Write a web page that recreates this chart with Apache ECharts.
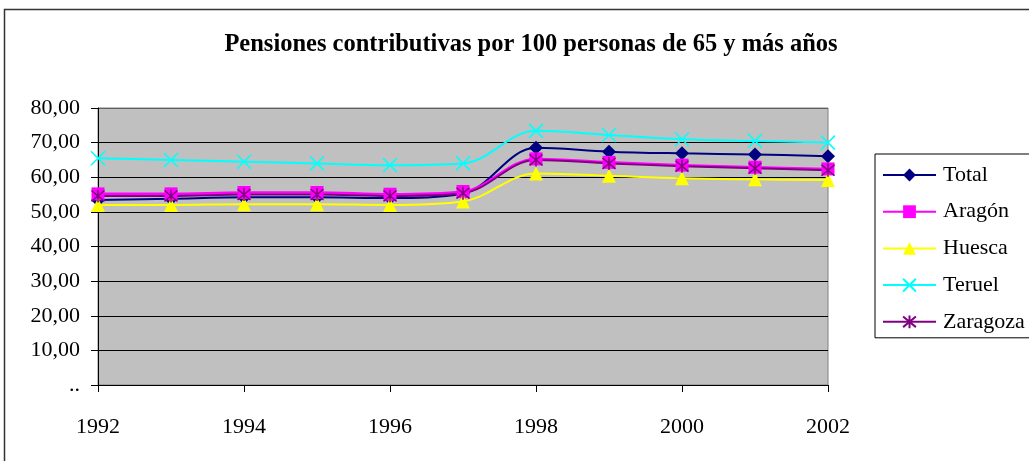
<!DOCTYPE html>
<html>
<head>
<meta charset="utf-8">
<script src="https://cdn.jsdelivr.net/npm/echarts@6/dist/echarts.min.js"></script>
<style>
  html, body { margin: 0; padding: 0; background: #fff; }
  #chart { width: 1029px; height: 461px; }
</style>
</head>
<body>
<div id="chart"></div>
<script>
const years = ['1992', '1993', '1994', '1995', '1996', '1997', '1998', '1999', '2000', '2001', '2002'];
const total = [53.4, 53.8, 54.2, 54.2, 54.0, 55.3, 68.5, 67.4, 66.9, 66.6, 66.1];
const aragon = [55.2, 55.2, 55.6, 55.6, 55.1, 55.9, 65.3, 64.3, 63.5, 62.9, 62.4];
const huesca = [52.0, 52.0, 52.2, 52.2, 52.0, 53.0, 61.1, 60.4, 59.7, 59.4, 59.2];
const teruel = [65.5, 65.0, 64.5, 64.0, 63.5, 64.0, 73.4, 72.2, 71.0, 70.5, 70.0];
const zaragoza = [54.6, 54.6, 55.0, 55.0, 54.6, 55.4, 65.0, 64.0, 63.2, 62.6, 62.0];

const serif = '"Liberation Serif", "DejaVu Serif", serif';
const xPath = 'path://M0,0 L10,10 M10,0 L0,10';
const starPath = 'path://M0,0 L10,10 M10,0 L0,10 M5,-1 L5,11';

function line(name, data, color, symbol, size, strokeMarker, width) {
  return {
    name: name,
    type: 'line',
    data: data,
    smooth: 0.35,
    symbol: symbol,
    symbolSize: size,
    lineStyle: { color: color, width: width || 2 },
    itemStyle: strokeMarker
      ? { color: 'none', borderColor: color, borderWidth: 1.5 }
      : { color: color },
    emphasis: { disabled: true },
  };
}

let chart = echarts.init(document.getElementById('chart'), null, { renderer: 'canvas' });
chart.setOption({
  animation: false,
  title: {
    text: 'Pensiones contributivas por 100 personas de 65 y más años',
    left: 526,
    textAlign: 'center',
    top: 27,
    textStyle: { fontFamily: serif, fontSize: 24.5, fontWeight: 'bold', color: '#000' },
  },
  graphic: [
    {
      type: 'rect',
      shape: { x: 4.5, y: 9.5, width: 1100, height: 600 },
      style: { fill: 'none', stroke: '#333', lineWidth: 1.5 },
      silent: true,
      z: -10,
    },
  ],
  legend: {
    orient: 'vertical',
    left: 875,
    top: 154,
    itemGap: 14.7,
    itemWidth: 53,
    itemHeight: 16,
    padding: [10, 40, 5, 7],
    borderColor: '#000',
    borderWidth: 1,
    textStyle: { fontFamily: serif, fontSize: 22, color: '#000', padding: [0, 0, 0, 2] },
    data: ['Total', 'Aragón', 'Huesca', 'Teruel', 'Zaragoza'],
  },
  grid: {
    left: 98,
    right: 201,
    top: 108,
    bottom: 76,
    show: true,
    backgroundColor: '#C0C0C0',
    borderColor: '#808080',
    borderWidth: 1,
  },
  xAxis: {
    type: 'category',
    data: years,
    boundaryGap: false,
    axisLine: { lineStyle: { color: '#000', width: 1 } },
    axisTick: { interval: 1, length: 7, lineStyle: { color: '#000' } },
    axisLabel: {
      interval: 1,
      margin: 31,
      fontFamily: serif,
      fontSize: 22,
      color: '#000',
    },
    splitLine: { show: false },
  },
  yAxis: {
    type: 'value',
    min: 0,
    max: 80,
    interval: 10,
    axisLine: { show: true, lineStyle: { color: '#000', width: 1 } },
    axisTick: { show: true, length: 7, lineStyle: { color: '#000' } },
    axisLabel: {
      margin: 18,
      fontFamily: serif,
      fontSize: 22,
      color: '#000',
      formatter: v => (v === 0 ? '..' : v.toFixed(2).replace('.', ',')),
    },
    splitLine: {
      show: true,
      lineStyle: {
        color: ['#000', '#000', '#000', '#000', '#000', '#000', '#000', '#000', '#606060'],
        width: 1,
      },
    },
  },
  series: [
    line('Total', total, '#000080', 'diamond', 14, false, 2),
    line('Aragón', aragon, '#FF00FF', 'rect', 13, false, 2.5),
    line('Huesca', huesca, '#FFFF00', 'triangle', 14, false, 2),
    line('Teruel', teruel, '#00FFFF', xPath, 14, true, 2),
    line('Zaragoza', zaragoza, '#800080', starPath, 13, true, 2),
  ],
});
</script>
</body>
</html>
